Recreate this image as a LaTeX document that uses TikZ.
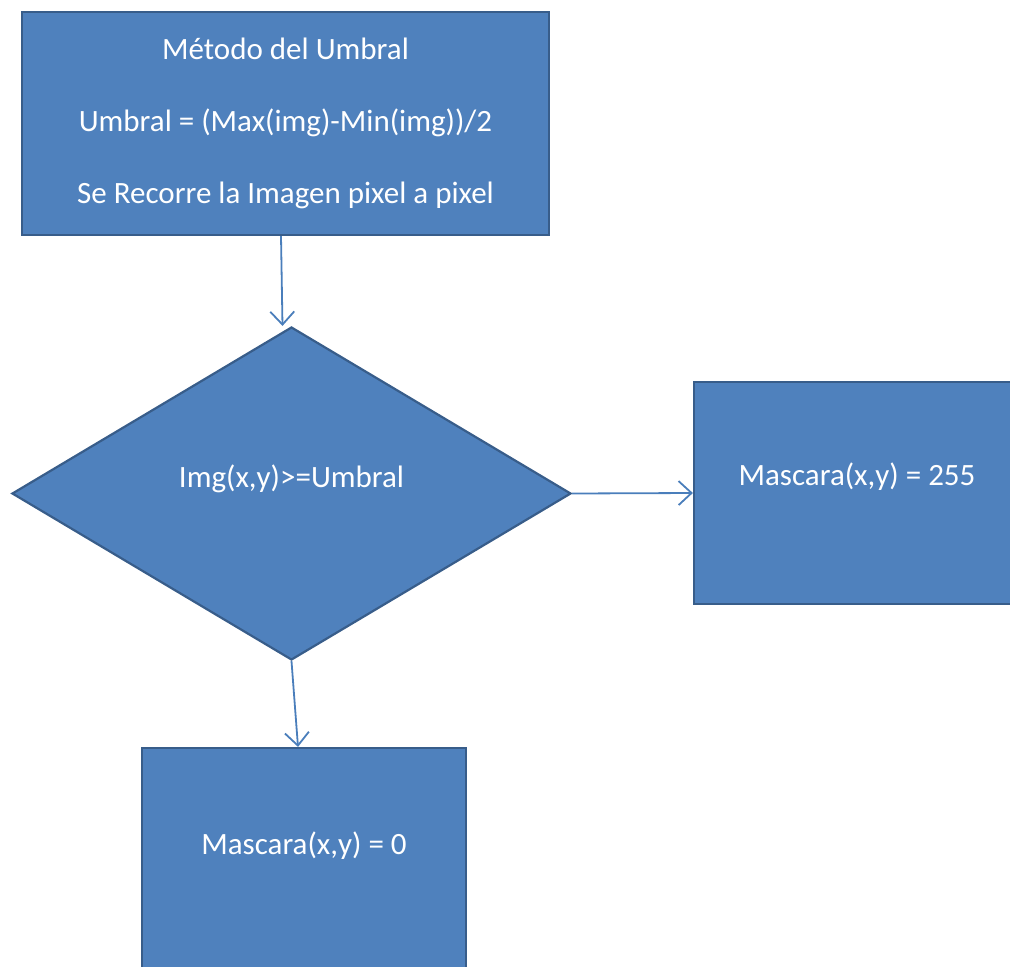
\documentclass[tikz,border=0pt]{standalone}
\usepackage{fontspec}
\setmainfont{Carlito}
\usetikzlibrary{shapes.geometric,arrows.meta}
\definecolor{boxfill}{HTML}{4F81BD}
\definecolor{boxline}{HTML}{385D8A}
\definecolor{arrline}{HTML}{4A7EBB}
\tikzset{
  shapebox/.style={draw=boxline, fill=boxfill, line width=2.2pt, inner sep=0pt},
  lbl/.style={text=white, font=\fontsize{31}{36}\selectfont},
  conn/.style={draw=arrline, line width=1.8pt, -{Straight Barb[length=13pt,width=24pt,line width=1.8pt]}}
}
\begin{document}
\begin{tikzpicture}[x=1pt,y=-1pt]
\useasboundingbox (0,0) rectangle (1010,967);
\node[shapebox, rectangle, minimum width=527pt, minimum height=223pt, lbl, align=center] (b1) at (285.5,123.5)
  {Método del Umbral\\[36pt]Umbral = (Max(img)-Min(img))/2\\[36pt]Se Recorre la Imagen pixel a pixel};
\node[shapebox, diamond, minimum width=559pt, minimum height=333pt,
  label={[lbl, yshift=15pt]center:Img(x,y)>=Umbral}] (dec) at (291.5,493.5) {};
\node[shapebox, rectangle, minimum width=336pt, minimum height=222pt,
  label={[lbl, yshift=16pt, xshift=-5pt]center:Mascara(x,y) = 255}] (m255) at (862,493) {};
\node[shapebox, rectangle, minimum width=324pt, minimum height=260pt,
  label={[lbl, yshift=32pt]center:Mascara(x,y) = 0}] (m0) at (304,878) {};
\draw[conn] ([xshift=-4.5pt]b1.south) -- ([xshift=-9pt]dec.north);
\draw[conn] (dec.east) -- (m255.west);
\draw[conn] (dec.south) -- ([xshift=-6pt]m0.north);
\end{tikzpicture}
\end{document}
